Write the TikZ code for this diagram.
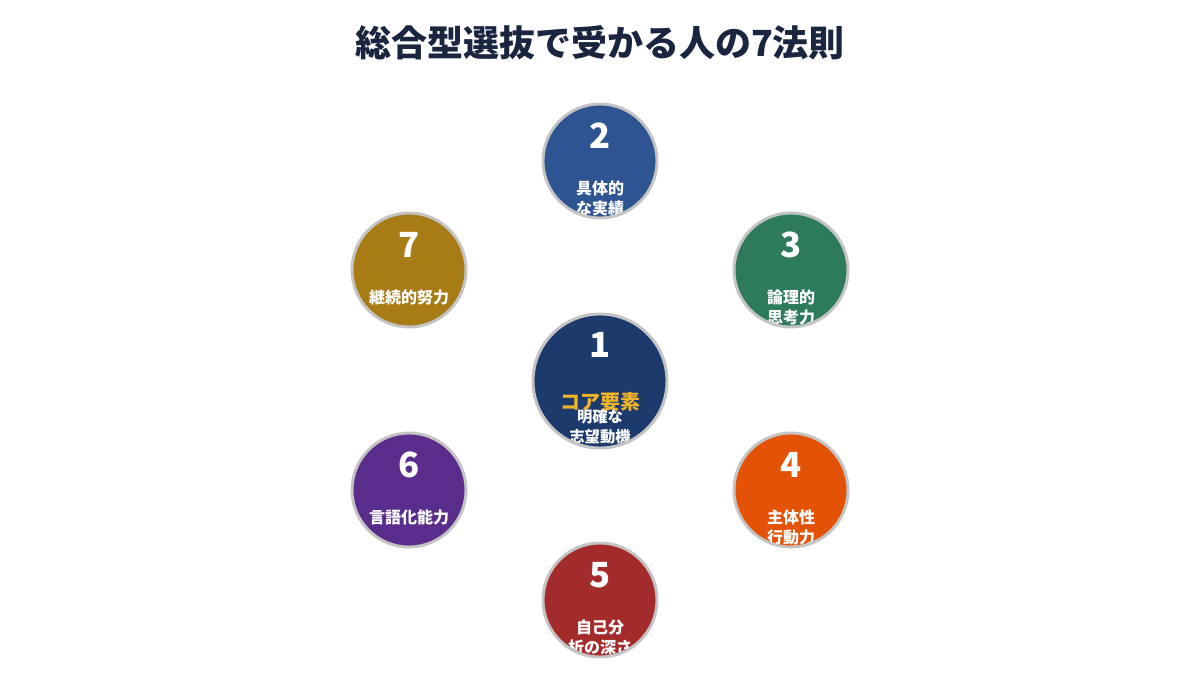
\documentclass[tikz,border=0pt]{standalone}
\usepackage{fontspec}
\setmainfont{Noto Sans CJK JP}
\usepackage{tikz}
\usetikzlibrary{shapes.geometric}
\usepackage{xcolor}
\definecolor{titlenavy}{HTML}{1A2540}
\definecolor{ringgray}{HTML}{C4C4C4}
\definecolor{corenavy}{HTML}{1C3A6C}
\definecolor{lawblue}{HTML}{2E5592}
\definecolor{lawgreen}{HTML}{2E7B5C}
\definecolor{laworange}{HTML}{E35205}
\definecolor{lawred}{HTML}{A42B2B}
\definecolor{lawpurple}{HTML}{5A2D8C}
\definecolor{lawgold}{HTML}{A77C14}
\definecolor{coregold}{HTML}{F0B429}

\begin{document}
\begin{tikzpicture}[x=0.75pt,y=-0.75pt,
    lawdisc/.style={circle,inner sep=0pt},
    lawring/.style={draw=ringgray,line width=2.2pt},
    numtext/.style={text=white,font=\bfseries\fontsize{26}{28}\selectfont},
    labtext/.style={text=white,align=center,font=\bfseries\fontsize{12}{15}\selectfont}]
      \useasboundingbox (0,0) rectangle (1200,700);

      % Title
      \node[text=titlenavy,font=\bfseries\fontsize{27}{32}\selectfont] (title) at (600,43) {総合型選抜で受かる人の7法則};

      % Core circle
      \node[lawdisc,fill=corenavy,minimum size=136*0.75pt] (law1) at (600,381) {};
      \begin{scope}
        \clip (600,381) circle (66);
        \node[numtext] (num1) at (600,345) {1};
        \node[text=coregold,font=\bfseries\fontsize{15}{18}\selectfont] (core) at (600,402) {コア要素};
        \node[labtext,font=\bfseries\fontsize{11.5}{15}\selectfont] (lab1) at (600,427) {明確な\\志望動機};
      \end{scope}
      \draw[lawring] (law1.center) circle (67);

      % Outer circles
      \foreach \n/\x/\y/\col/\dy/\lab in {
          2/600/161/lawblue/37/{具体的\\な実績},
          3/791/270/lawgreen/37/{論理的\\思考力},
          4/791/490/laworange/37/{主体性\\行動力},
          5/600/600/lawred/37/{自己分\\析の深さ},
          6/409/490/lawpurple/27/{言語化能力},
          7/409/270/lawgold/27/{継続的努力}}{
        \node[lawdisc,fill=\col,minimum size=114*0.75pt] (law\n) at (\x,\y) {};
        \begin{scope}
          \clip (\x,\y) circle (57);
          \node[numtext] (num\n) at (\x,\y-25) {\n};
          \node[labtext] (lab\n) at (\x,\y+\dy) {\lab};
        \end{scope}
        \draw[lawring] (law\n.center) circle (57);
      }
    \end{tikzpicture}
\end{document}
